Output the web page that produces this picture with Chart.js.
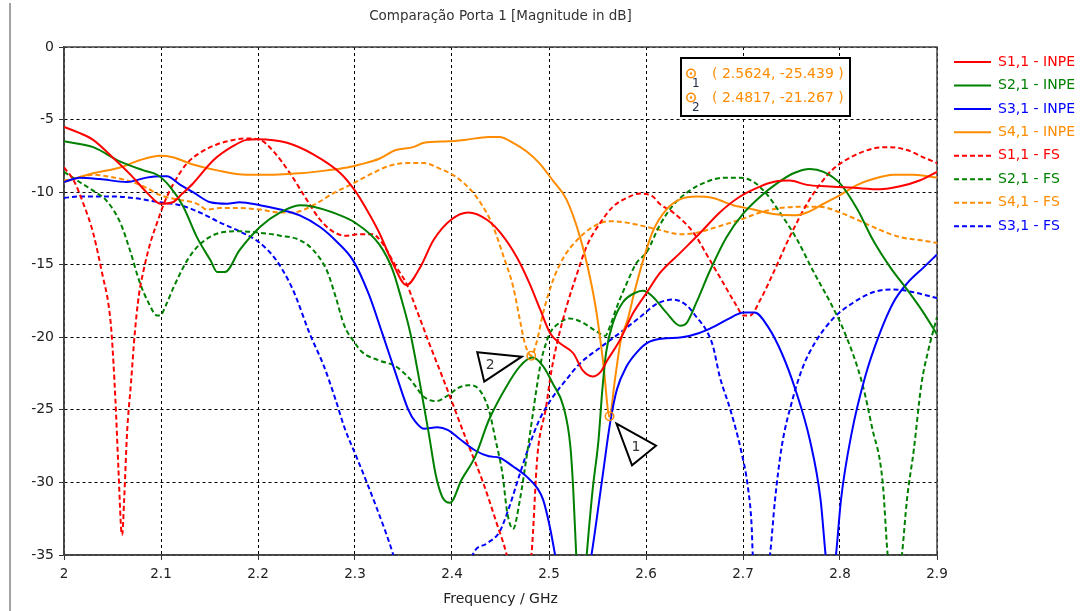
<!DOCTYPE html>
<html>
<head>
<meta charset="utf-8">
<script src="https://cdn.jsdelivr.net/npm/chart.js@4.4.1/dist/chart.umd.min.js"></script>
<style>
  body { margin: 0; background: #fff; }
  #wrap { position: relative; width: 1083px; height: 611px; }
  #moldura { position: absolute; left: 9px; top: 3px; width: 2px; height: 608px; background: #a3a3a3; }
  canvas { position: absolute; left: 0; top: 0; }
</style>
</head>
<body>
<div id="wrap">
  <div id="moldura"></div>
  <canvas id="grafico" width="1083" height="611"></canvas>
</div>
<script>
const FONTE = '"DejaVu Sans", sans-serif';
const titulo = 'Comparação Porta 1 [Magnitude in dB]';
const tituloX = 'Frequency / GHz';

const ticksFreq = [2.0, 2.1, 2.2, 2.3, 2.4, 2.5, 2.6, 2.7, 2.8, 2.9];
const ticksDb = [0, -5, -10, -15, -20, -25, -30, -35];

const nomes = ['S1,1 - INPE', 'S2,1 - INPE', 'S3,1 - INPE', 'S4,1 - INPE',
               'S1,1 - FS', 'S2,1 - FS', 'S4,1 - FS', 'S3,1 - FS'];

// [frequência GHz, dB]
const s11Inpe = [[2.000,-5.5],[2.015,-5.9],[2.030,-6.4],[2.050,-7.6],[2.070,-8.9],[2.085,-10.0],[2.096,-10.7],[2.100,-10.8],
  [2.112,-10.7],[2.122,-10.1],[2.133,-9.4],[2.154,-7.8],[2.175,-6.8],[2.188,-6.4],[2.200,-6.35],[2.230,-6.6],[2.257,-7.4],
  [2.285,-8.7],[2.300,-9.9],[2.312,-11.2],[2.325,-12.8],[2.339,-14.9],[2.353,-16.4],[2.367,-15.2],[2.381,-13.3],[2.399,-11.9],
  [2.417,-11.4],[2.436,-11.9],[2.450,-12.8],[2.467,-14.5],[2.480,-16.3],[2.491,-18.1],[2.501,-19.7],[2.511,-20.4],[2.525,-21.1],
  [2.535,-22.3],[2.545,-22.7],[2.553,-22.4],[2.560,-21.6],[2.573,-20.2],[2.587,-18.3],[2.601,-16.9],[2.614,-15.6],[2.635,-14.2],
  [2.656,-12.8],[2.676,-11.4],[2.697,-10.3],[2.718,-9.6],[2.731,-9.3],[2.748,-9.2],[2.766,-9.5],[2.786,-9.6],[2.814,-9.7],
  [2.841,-9.8],[2.862,-9.6],[2.882,-9.2],[2.900,-8.6]];

const s21Inpe = [[2.000,-6.5],[2.030,-6.9],[2.058,-7.9],[2.082,-8.5],[2.096,-8.8],[2.109,-9.6],[2.123,-11.0],[2.137,-13.1],
  [2.151,-14.7],[2.158,-15.5],[2.166,-15.5],[2.181,-14.0],[2.202,-12.4],[2.223,-11.4],[2.243,-10.9],[2.257,-11.0],[2.281,-11.5],
  [2.300,-12.1],[2.325,-13.6],[2.339,-15.4],[2.348,-17.4],[2.357,-19.7],[2.367,-23.2],[2.376,-26.6],[2.383,-29.4],[2.390,-31.0],
  [2.398,-31.4],[2.410,-29.8],[2.424,-28.2],[2.438,-25.7],[2.456,-23.4],[2.470,-22.0],[2.483,-21.4],[2.494,-22.0],[2.504,-23.2],
  [2.515,-24.8],[2.522,-27.5],[2.525,-30.5],[2.528,-34.9],[2.533,-40],[2.539,-34.9],[2.545,-30.5],[2.551,-27.1],[2.555,-23.6],
  [2.559,-21.0],[2.566,-19.0],[2.576,-17.6],[2.590,-16.9],[2.597,-16.8],[2.607,-17.2],[2.621,-18.3],[2.635,-19.2],[2.642,-19.0],
  [2.652,-17.6],[2.666,-15.4],[2.683,-13.1],[2.700,-11.5],[2.718,-10.3],[2.735,-9.4],[2.752,-8.7],[2.769,-8.4],[2.783,-8.6],
  [2.800,-9.4],[2.818,-11.2],[2.834,-13.3],[2.852,-15.2],[2.869,-16.7],[2.886,-18.3],[2.900,-19.8]];

const s31Inpe = [[2.000,-9.3],[2.016,-9.0],[2.037,-9.1],[2.065,-9.3],[2.085,-9.0],[2.100,-8.9],[2.106,-8.9],[2.120,-9.5],
  [2.133,-10.0],[2.151,-10.7],[2.168,-10.8],[2.181,-10.7],[2.202,-10.9],[2.223,-11.2],[2.243,-11.6],[2.264,-12.4],[2.281,-13.4],
  [2.298,-14.7],[2.314,-17.0],[2.328,-19.7],[2.342,-22.5],[2.355,-25.0],[2.362,-25.8],[2.371,-26.3],[2.385,-26.2],[2.396,-26.4],
  [2.406,-26.9],[2.424,-27.8],[2.438,-28.2],[2.449,-28.3],[2.463,-28.9],[2.477,-29.6],[2.488,-30.4],[2.494,-31.2],[2.501,-33.1],
  [2.506,-34.9],[2.525,-42],[2.544,-34.9],[2.549,-32.6],[2.556,-29.2],[2.563,-25.9],[2.570,-23.6],[2.580,-22.0],[2.591,-21.0],
  [2.601,-20.4],[2.616,-20.1],[2.637,-20.0],[2.655,-19.7],[2.669,-19.3],[2.683,-18.8],[2.701,-18.3],[2.712,-18.3],[2.726,-19.3],
  [2.740,-21.1],[2.754,-23.6],[2.769,-27.1],[2.780,-31.2],[2.785,-34.9],[2.790,-38],[2.796,-34.9],[2.801,-31.2],[2.812,-26.6],
  [2.826,-22.7],[2.840,-19.9],[2.855,-17.6],[2.869,-16.3],[2.886,-15.2],[2.900,-14.3]];

const s41Inpe = [[2.000,-9.3],[2.030,-8.7],[2.058,-8.3],[2.078,-7.8],[2.099,-7.5],[2.112,-7.6],[2.133,-8.1],[2.158,-8.5],
  [2.188,-8.8],[2.216,-8.8],[2.243,-8.7],[2.271,-8.5],[2.292,-8.3],[2.305,-8.1],[2.325,-7.7],[2.342,-7.1],[2.360,-6.9],
  [2.371,-6.6],[2.396,-6.5],[2.413,-6.4],[2.438,-6.2],[2.449,-6.2],[2.463,-6.6],[2.477,-7.2],[2.490,-8.0],[2.504,-9.2],
  [2.518,-10.5],[2.532,-13.1],[2.542,-15.8],[2.549,-18.3],[2.556,-21.8],[2.5624,-25.439],[2.568,-22.9],[2.574,-20.2],
  [2.581,-18.8],[2.588,-16.9],[2.597,-14.7],[2.607,-12.7],[2.621,-11.2],[2.635,-10.5],[2.652,-10.3],[2.669,-10.4],[2.690,-10.9],
  [2.711,-11.2],[2.731,-11.5],[2.752,-11.6],[2.766,-11.4],[2.783,-10.8],[2.800,-10.2],[2.818,-9.5],[2.834,-9.1],[2.855,-8.8],
  [2.876,-8.8],[2.900,-9.0]];

const s11Fs = [[2.000,-8.3],[2.010,-9.2],[2.020,-10.8],[2.030,-12.8],[2.040,-15.8],[2.046,-17.8],[2.049,-19.7],[2.053,-24.3],
  [2.056,-28.9],[2.059,-33.3],[2.060,-33.6],[2.062,-31.2],[2.065,-26.6],[2.069,-23.2],[2.073,-19.7],[2.077,-17.2],[2.082,-15.4],
  [2.089,-13.5],[2.096,-12.1],[2.103,-10.8],[2.113,-9.4],[2.127,-8.0],[2.140,-7.3],[2.158,-6.7],[2.175,-6.4],[2.185,-6.3],
  [2.202,-6.4],[2.216,-7.2],[2.233,-8.7],[2.250,-10.5],[2.264,-11.9],[2.277,-12.7],[2.290,-13.0],[2.305,-12.9],[2.318,-12.9],
  [2.328,-13.5],[2.342,-15.1],[2.353,-16.3],[2.364,-18.2],[2.377,-20.5],[2.394,-23.4],[2.415,-27.1],[2.432,-30.0],[2.446,-32.8],
  [2.456,-34.9],[2.469,-39],[2.482,-34.9],[2.488,-28.2],[2.497,-24.8],[2.502,-22.5],[2.508,-20.5],[2.518,-17.9],[2.529,-15.6],
  [2.539,-13.7],[2.553,-12.1],[2.566,-11.0],[2.580,-10.4],[2.594,-10.1],[2.607,-10.3],[2.614,-10.8],[2.628,-11.4],[2.649,-12.8],
  [2.666,-14.7],[2.680,-16.3],[2.694,-17.9],[2.700,-18.5],[2.707,-18.5],[2.718,-17.4],[2.731,-15.6],[2.748,-13.1],[2.766,-10.8],
  [2.780,-9.4],[2.793,-8.4],[2.814,-7.5],[2.834,-7.0],[2.852,-6.9],[2.869,-7.1],[2.886,-7.6],[2.900,-8.0]];

const s21Fs = [[2.000,-8.6],[2.016,-9.3],[2.030,-9.9],[2.044,-10.6],[2.058,-12.1],[2.068,-14.0],[2.078,-16.2],[2.087,-17.6],
  [2.096,-18.5],[2.099,-18.5],[2.105,-17.8],[2.112,-16.7],[2.127,-14.7],[2.140,-13.6],[2.161,-12.8],[2.181,-12.7],[2.202,-12.8],
  [2.223,-13.0],[2.243,-13.3],[2.257,-14.0],[2.271,-15.4],[2.280,-17.2],[2.289,-19.2],[2.300,-20.4],[2.307,-21.0],[2.325,-21.6],
  [2.342,-22.0],[2.357,-22.9],[2.371,-24.1],[2.383,-24.4],[2.396,-24.0],[2.406,-23.5],[2.417,-23.3],[2.428,-23.6],[2.438,-25.0],
  [2.445,-27.1],[2.452,-29.4],[2.457,-32.1],[2.463,-33.2],[2.470,-31.2],[2.477,-28.2],[2.482,-25.9],[2.487,-23.6],[2.492,-21.6],
  [2.497,-20.4],[2.501,-19.7],[2.511,-19.0],[2.521,-18.7],[2.535,-19.0],[2.549,-19.6],[2.558,-19.9],[2.562,-19.4],[2.570,-17.9],
  [2.580,-16.3],[2.590,-14.9],[2.601,-14.1],[2.614,-12.3],[2.628,-10.9],[2.645,-9.9],[2.662,-9.3],[2.680,-9.0],[2.697,-9.0],
  [2.711,-9.3],[2.724,-10.1],[2.738,-11.4],[2.756,-13.3],[2.772,-15.4],[2.790,-17.6],[2.805,-19.7],[2.823,-23.2],[2.833,-26.2],
  [2.844,-30.0],[2.849,-34.9],[2.856,-39],[2.864,-34.9],[2.869,-31.2],[2.876,-27.8],[2.884,-23.2],[2.891,-20.9],[2.900,-18.6]];

const s41Fs = [[2.000,-9.2],[2.016,-9.0],[2.030,-8.8],[2.044,-8.9],[2.065,-9.2],[2.082,-9.6],[2.099,-10.2],[2.116,-10.5],
  [2.133,-10.7],[2.140,-10.9],[2.147,-11.2],[2.161,-11.1],[2.181,-11.1],[2.202,-11.2],[2.223,-11.4],[2.236,-11.4],[2.257,-10.9],
  [2.277,-10.1],[2.298,-9.4],[2.318,-8.7],[2.335,-8.2],[2.353,-8.0],[2.371,-8.0],[2.388,-8.4],[2.403,-8.9],[2.420,-9.9],
  [2.431,-10.9],[2.442,-12.3],[2.453,-14.4],[2.463,-16.5],[2.470,-18.8],[2.475,-20.4],[2.4817,-21.267],[2.487,-20.4],
  [2.494,-18.3],[2.504,-16.1],[2.515,-14.5],[2.529,-13.3],[2.545,-12.4],[2.563,-12.0],[2.580,-12.1],[2.601,-12.4],[2.614,-12.6],
  [2.635,-12.9],[2.652,-12.8],[2.673,-12.4],[2.697,-11.9],[2.718,-11.4],[2.738,-11.1],[2.762,-11.0],[2.779,-11.0],[2.800,-11.4],
  [2.821,-12.0],[2.841,-12.6],[2.862,-13.1],[2.882,-13.3],[2.900,-13.5]];

const s31Fs = [[2.000,-10.4],[2.016,-10.3],[2.030,-10.3],[2.051,-10.3],[2.071,-10.4],[2.099,-10.7],[2.120,-10.9],[2.140,-11.4],
  [2.161,-12.1],[2.181,-12.7],[2.202,-13.5],[2.219,-14.7],[2.233,-16.3],[2.239,-17.2],[2.253,-19.7],[2.268,-22.0],[2.280,-24.3],
  [2.289,-26.2],[2.300,-28.0],[2.311,-29.8],[2.322,-31.7],[2.332,-33.5],[2.339,-34.9],[2.380,-45],[2.422,-34.9],[2.436,-34.2],
  [2.449,-33.4],[2.459,-31.7],[2.470,-29.4],[2.480,-27.4],[2.490,-25.7],[2.501,-24.4],[2.518,-22.9],[2.532,-21.8],[2.553,-20.7],
  [2.573,-19.7],[2.594,-18.6],[2.611,-17.7],[2.628,-17.4],[2.642,-17.8],[2.652,-18.6],[2.662,-19.5],[2.669,-20.6],[2.676,-22.7],
  [2.687,-25.0],[2.698,-27.8],[2.705,-30.3],[2.709,-33.1],[2.710,-34.9],[2.719,-39],[2.728,-34.9],[2.733,-31.2],[2.740,-27.5],
  [2.751,-24.3],[2.762,-22.0],[2.774,-20.4],[2.793,-18.7],[2.814,-17.6],[2.834,-16.9],[2.855,-16.7],[2.876,-16.9],[2.900,-17.3]];

// marcadores 1 e 2
const marcadorFreq = [2.5624, 2.4817];
const marcadorDb = [-25.439, -21.267];

const VERMELHO = '#ff0000', VERDE = '#008000', AZUL = '#0000ff', LARANJA = '#ff8c00';
const TRACO = [5, 3];

function serie(label, pts, cor, tracejado) {
  return {
    label: label,
    data: pts.map(p => ({ x: p[0], y: p[1] })),
    borderColor: cor,
    backgroundColor: cor,
    borderWidth: 2,
    borderDash: tracejado ? TRACO : [],
    pointRadius: 0,
    fill: false,
    cubicInterpolationMode: 'monotone',
    clip: 0
  };
}

const datasets = [
  serie(nomes[0], s11Inpe, VERMELHO, false),
  serie(nomes[1], s21Inpe, VERDE, false),
  serie(nomes[2], s31Inpe, AZUL, false),
  serie(nomes[3], s41Inpe, LARANJA, false),
  serie(nomes[4], s11Fs, VERMELHO, true),
  serie(nomes[5], s21Fs, VERDE, true),
  serie(nomes[6], s41Fs, LARANJA, true),
  serie(nomes[7], s31Fs, AZUL, true)
];

function anel(ctx, px, py) {
  ctx.strokeStyle = LARANJA;
  ctx.fillStyle = LARANJA;
  ctx.lineWidth = 1.5;
  ctx.setLineDash([]);
  ctx.beginPath();
  ctx.arc(px, py, 4.2, 0, Math.PI * 2);
  ctx.stroke();
  ctx.beginPath();
  ctx.arc(px, py, 1.2, 0, Math.PI * 2);
  ctx.fill();
}

function triangulo(ctx, pts, texto, tx, ty) {
  ctx.setLineDash([]);
  ctx.beginPath();
  ctx.moveTo(pts[0][0], pts[0][1]);
  ctx.lineTo(pts[1][0], pts[1][1]);
  ctx.lineTo(pts[2][0], pts[2][1]);
  ctx.closePath();
  ctx.fillStyle = '#fff';
  ctx.fill();
  ctx.strokeStyle = '#000';
  ctx.lineWidth = 2;
  ctx.stroke();
  ctx.fillStyle = '#333';
  ctx.font = '14px ' + FONTE;
  ctx.textAlign = 'center';
  ctx.textBaseline = 'middle';
  ctx.fillText(texto, tx, ty);
}

const extras = {
  id: 'extras',
  beforeDatasetsDraw(chart) {
    const { ctx, chartArea: a } = chart;
    ctx.save();
    ctx.strokeStyle = '#444';
    ctx.lineWidth = 1.5;
    ctx.strokeRect(a.left, a.top, a.right - a.left, a.bottom - a.top);
    ctx.restore();
  },
  afterDatasetsDraw(chart) {
    const { ctx, scales: { x, y } } = chart;
    ctx.save();
    // marcador 1
    const m1x = x.getPixelForValue(marcadorFreq[0]), m1y = y.getPixelForValue(marcadorDb[0]);
    triangulo(ctx, [[m1x + 7, m1y + 7.5], [m1x + 46.5, m1y + 29.5], [m1x + 22.5, m1y + 49]], '1', m1x + 26.5, m1y + 31.5);
    anel(ctx, m1x, m1y);
    // marcador 2
    const m2x = x.getPixelForValue(marcadorFreq[1]), m2y = y.getPixelForValue(marcadorDb[1]);
    triangulo(ctx, [[m2x - 54, m2y - 3.5], [m2x - 9.5, m2y + 1], [m2x - 47, m2y + 26]], '2', m2x - 41, m2y + 9.5);
    anel(ctx, m2x, m2y);
    ctx.restore();
  },
  afterDraw(chart) {
    const ctx = chart.ctx;
    ctx.save();
    // título
    ctx.fillStyle = '#333';
    ctx.font = '13.5px ' + FONTE;
    ctx.textAlign = 'center';
    ctx.textBaseline = 'middle';
    ctx.fillText(titulo, (chart.chartArea.left + chart.chartArea.right) / 2, 16);

    // caixa dos marcadores
    ctx.fillStyle = '#fff';
    ctx.fillRect(681, 58, 169, 58);
    ctx.strokeStyle = '#000';
    ctx.lineWidth = 2;
    ctx.setLineDash([]);
    ctx.strokeRect(681, 58, 169, 58);
    marcadorFreq.forEach((f, i) => {
      const yy = 73.5 + i * 24;
      anel(ctx, 691, yy);
      ctx.fillStyle = '#1f2a44';
      ctx.font = '12px ' + FONTE;
      ctx.textAlign = 'left';
      ctx.textBaseline = 'middle';
      ctx.fillText(String(i + 1), 692, yy + 10);
      ctx.fillStyle = LARANJA;
      ctx.font = '14px ' + FONTE;
      ctx.fillText('( ' + f.toFixed(4) + ', ' + marcadorDb[i].toFixed(3) + ' )', 712, yy + 0.5);
    });

    // legenda
    chart.data.datasets.forEach((ds, i) => {
      const yy = 62 + i * 23.45;
      ctx.strokeStyle = ds.borderColor;
      ctx.lineWidth = 2;
      ctx.setLineDash(ds.borderDash);
      ctx.beginPath();
      ctx.moveTo(954, yy);
      ctx.lineTo(991, yy);
      ctx.stroke();
      ctx.setLineDash([]);
      ctx.fillStyle = ds.borderColor;
      ctx.font = '14px ' + FONTE;
      ctx.textAlign = 'left';
      ctx.textBaseline = 'middle';
      ctx.fillText(ds.label, 998, yy);
    });
    ctx.restore();
  }
};

const gradeComum = { color: '#000', lineWidth: 1, tickLength: 5, tickColor: '#333', tickWidth: 1, tickBorderDash: [] };
const bordaComum = { display: true, color: '#444', width: 1.5, dash: [3, 3] };

new Chart(document.getElementById('grafico'), {
  type: 'line',
  data: { datasets: datasets },
  options: {
    responsive: false,
    animation: false,
    devicePixelRatio: 1,
    layout: { padding: { top: 47, right: 146, bottom: 0, left: 0 } },
    plugins: { legend: { display: false }, tooltip: { enabled: false } },
    scales: {
      x: {
        type: 'linear',
        min: 2,
        max: 2.9,
        afterBuildTicks: s => { s.ticks = ticksFreq.map(v => ({ value: v })); },
        afterFit: s => { s.height = 56; },
        grid: gradeComum,
        border: bordaComum,
        ticks: {
          color: '#222', padding: 6, maxRotation: 0, autoSkip: false,
          font: { family: FONTE, size: 13.5 },
          callback: v => String(Number(v.toFixed(1)))
        },
        title: { display: true, text: tituloX, color: '#222', font: { family: FONTE, size: 14 }, padding: { top: 0, bottom: 3 } }
      },
      y: {
        type: 'linear',
        min: -35,
        max: 0,
        afterBuildTicks: s => { s.ticks = ticksDb.map(v => ({ value: v })); },
        afterFit: s => { s.width = 64; },
        grid: gradeComum,
        border: bordaComum,
        ticks: { color: '#222', padding: 5, font: { family: FONTE, size: 14 } }
      }
    }
  },
  plugins: [extras]
});
</script>
</body>
</html>
